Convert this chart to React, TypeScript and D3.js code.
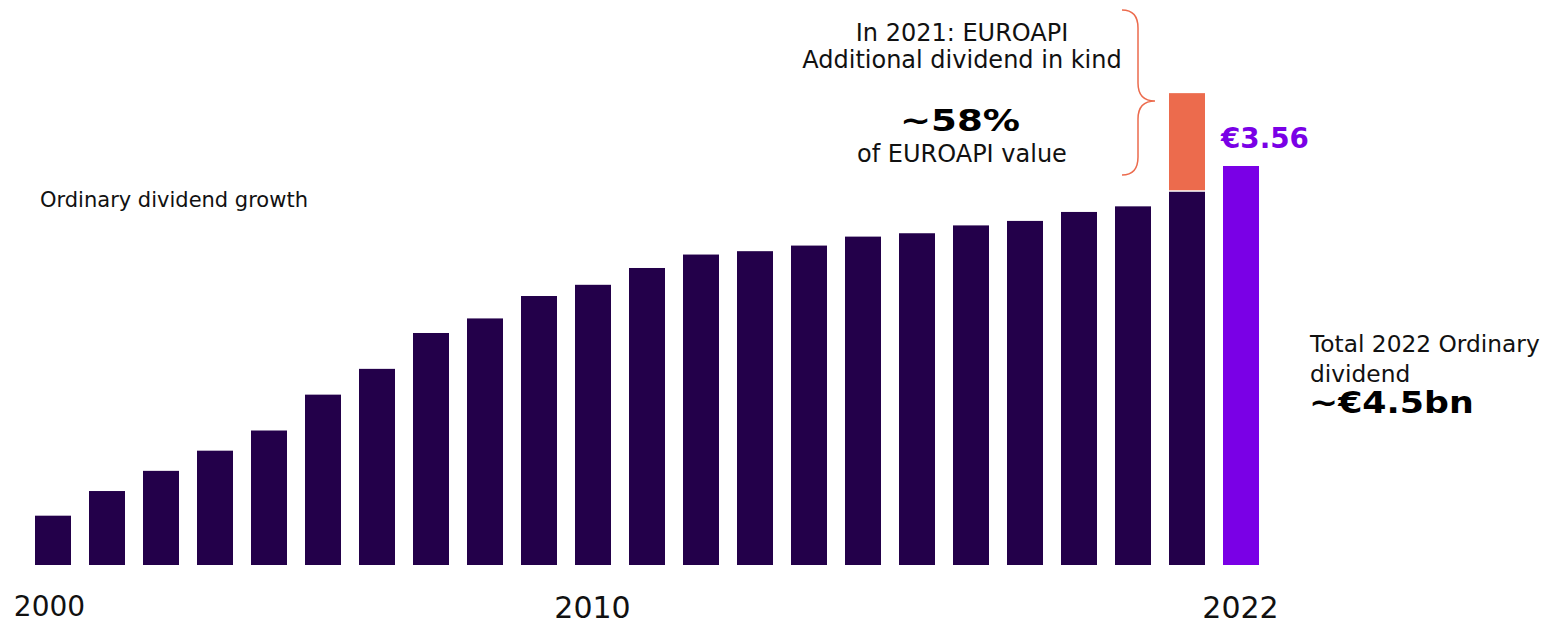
import React from "react";
import * as d3 from "d3";

const years: number[] = d3.range(2000, 2023);
const dividends: number[] = [0.44, 0.66, 0.84, 1.02, 1.2, 1.52, 1.75, 2.07, 2.2, 2.4, 2.5, 2.65, 2.77, 2.8, 2.85, 2.93, 2.96, 3.03, 3.07, 3.15, 3.2, 3.33, 3.56];
const inKindYear = 2021;
const inKindValue = 0.88;
const tickYears: number[] = [2000, 2010, 2022];
const highlightLabel = "€3.56";

const DARK = "#23004a";
const PURPLE = "#7a00e6";
const ORANGE = "#ec6b4d";
const FONT = "'DejaVu Sans', Verdana, sans-serif";

export default function App() {
  const W = 1549, H = 623;
  const x = d3.scaleBand<number>().domain(years).range([35, 1259]).paddingInner(1 / 3).paddingOuter(0);
  const y = d3.scaleLinear().domain([0, 3.56]).range([565, 166]);
  const bw = x.bandwidth();
  const last = years[years.length - 1];
  const kindBase = dividends[years.indexOf(inKindYear)];
  const kx = x(inKindYear)!;
  const lx = x(last)!;

  const braceX = 1138, braceTip = 1122, bracePt = 1155;
  const bTop = 10, bMid = 101, bBot = 175;
  const brace = `M${braceTip},${bTop} Q${braceX},${bTop} ${braceX},${bTop + 18} L${braceX},${bMid - 18} Q${braceX},${bMid} ${bracePt},${bMid} Q${braceX},${bMid} ${braceX},${bMid + 18} L${braceX},${bBot - 18} Q${braceX},${bBot} ${braceTip},${bBot}`;

  const tickSize = (yr: number) => (yr === 2000 ? 28 : 30);
  const tickOffset = (yr: number) => (yr === 2000 ? -3.5 : -0.5);

  return (
    <svg width={W} height={H} style={{ position: "absolute", left: 0, top: 0, background: "#fff" }} fontFamily={FONT}>
      {years.map((yr, i) => (
        <rect key={yr} x={x(yr)} y={y(dividends[i])} width={bw} height={y(0) - y(dividends[i])} fill={yr === last ? PURPLE : DARK} />
      ))}
      <rect x={kx} y={y(kindBase + inKindValue)} width={bw} height={y(kindBase) - 1.5 - y(kindBase + inKindValue)} fill={ORANGE} />

      {tickYears.map((yr) => (
        <text key={yr} x={x(yr)! + bw / 2 + tickOffset(yr)} y={yr === 2000 ? 616 : 617.5} textAnchor="middle" fontSize={tickSize(yr)} fill="#111">
          {yr}
        </text>
      ))}

      <text x={lx + bw / 2 + 24} y={147.5} textAnchor="middle" fontSize={27.8} fontWeight="bold" fill={PURPLE}>{highlightLabel}</text>

      <text x={40} y={206.5} fontSize={21} fill="#111">Ordinary dividend growth</text>

      <text x={962} y={40.7} textAnchor="middle" fontSize={24} fill="#111">In 2021: EUROAPI</text>
      <text x={962} y={68.3} textAnchor="middle" fontSize={24} fill="#111">Additional dividend in kind</text>
      <g transform="translate(960,131) scale(1.26,1)">
        <text x={0} y={0} textAnchor="middle" fontSize={29.5} fontWeight="bold" fill="#000">~58%</text>
      </g>
      <text x={962} y={162.3} textAnchor="middle" fontSize={24} fill="#111">of EUROAPI value</text>

      <path d={brace} fill="none" stroke={ORANGE} strokeWidth={1.5} />

      <text x={1310} y={351.7} fontSize={23.3} fill="#111">Total 2022 Ordinary</text>
      <text x={1310} y={381.7} fontSize={23.3} fill="#111">dividend</text>
      <g transform="translate(1309,413) scale(1.18,1)">
        <text x={0} y={0} fontSize={29.5} fontWeight="bold" fill="#000">~€4.5bn</text>
      </g>
    </svg>
  );
}
